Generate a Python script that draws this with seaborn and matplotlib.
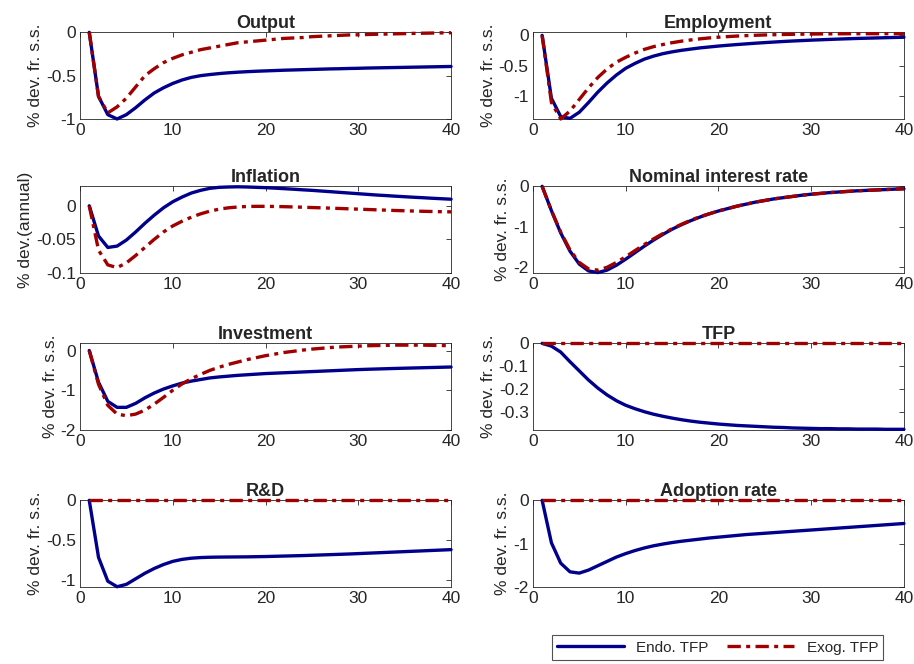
import numpy as np
import pandas as pd
import seaborn as sns
import matplotlib.pyplot as plt

# -----------------------
# Data
# -----------------------

periods = list(range(1, 41))

output_endo = [0, -0.74, -0.95, -1.0, -0.95, -0.87, -0.78, -0.7, -0.64, -0.59,
               -0.55, -0.52, -0.5, -0.487, -0.476, -0.467, -0.46, -0.454, -0.449, -0.445,
               -0.441, -0.437, -0.434, -0.431, -0.428, -0.425, -0.422, -0.42, -0.417, -0.415,
               -0.412, -0.41, -0.408, -0.406, -0.404, -0.402, -0.4, -0.398, -0.396, -0.394]
output_exog = [0, -0.74, -0.93, -0.86, -0.76, -0.63, -0.5, -0.42, -0.35, -0.3,
               -0.26, -0.23, -0.2, -0.18, -0.16, -0.14, -0.12, -0.11, -0.1, -0.09,
               -0.08, -0.07, -0.065, -0.06, -0.05, -0.045, -0.04, -0.035, -0.03, -0.028,
               -0.025, -0.022, -0.02, -0.017, -0.015, -0.012, -0.01, -0.008, -0.006, -0.005]

employment_endo = [0, -1.03, -1.33, -1.36, -1.26, -1.1, -0.93, -0.78, -0.65, -0.54,
                   -0.46, -0.39, -0.34, -0.3, -0.27, -0.245, -0.225, -0.205, -0.19, -0.175,
                   -0.162, -0.15, -0.139, -0.128, -0.118, -0.109, -0.1, -0.092, -0.085, -0.078,
                   -0.072, -0.066, -0.06, -0.055, -0.05, -0.046, -0.042, -0.038, -0.034, -0.03]
employment_exog = [0, -1.1, -1.37, -1.24, -1.05, -0.86, -0.69, -0.55, -0.44, -0.36,
                   -0.29, -0.23, -0.185, -0.15, -0.12, -0.095, -0.075, -0.057, -0.042, -0.03,
                   -0.02, -0.011, -0.004, 0.002, 0.007, 0.011, 0.015, 0.018, 0.02, 0.022,
                   0.024, 0.025, 0.026, 0.027, 0.028, 0.028, 0.028, 0.028, 0.028, 0.028]

inflation_endo = [0, -0.045, -0.062, -0.06, -0.051, -0.039, -0.026, -0.014, -0.003, 0.006,
                  0.013, 0.019, 0.023, 0.026, 0.0275, 0.028, 0.0283, 0.028, 0.0275, 0.027,
                  0.0263, 0.0255, 0.0247, 0.0238, 0.023, 0.022, 0.021, 0.02, 0.019, 0.018,
                  0.017, 0.016, 0.0152, 0.0143, 0.0135, 0.0127, 0.012, 0.0112, 0.0105, 0.0098]
inflation_exog = [0, -0.066, -0.088, -0.092, -0.085, -0.074, -0.062, -0.05, -0.039, -0.03,
                  -0.023, -0.017, -0.012, -0.008, -0.005, -0.003, -0.0018, -0.001, -0.0008, -0.0008,
                  -0.001, -0.0013, -0.0017, -0.0021, -0.0026, -0.003, -0.0035, -0.004, -0.0045, -0.005,
                  -0.0055, -0.006, -0.0065, -0.007, -0.0074, -0.0078, -0.0082, -0.0085, -0.0088, -0.009]

rate_endo = [0, -0.6, -1.15, -1.6, -1.92, -2.09, -2.13, -2.07, -1.95, -1.8,
             -1.64, -1.48, -1.33, -1.19, -1.06, -0.95, -0.85, -0.76, -0.68, -0.61,
             -0.55, -0.49, -0.44, -0.39, -0.35, -0.31, -0.28, -0.25, -0.22, -0.195,
             -0.175, -0.155, -0.14, -0.125, -0.11, -0.1, -0.09, -0.08, -0.07, -0.06]
rate_exog = [0, -0.6, -1.13, -1.57, -1.88, -2.04, -2.07, -2.0, -1.88, -1.74,
             -1.59, -1.44, -1.3, -1.17, -1.05, -0.94, -0.84, -0.75, -0.68, -0.61,
             -0.55, -0.49, -0.44, -0.39, -0.35, -0.31, -0.28, -0.25, -0.22, -0.195,
             -0.175, -0.155, -0.14, -0.125, -0.11, -0.1, -0.09, -0.08, -0.07, -0.06]

investment_endo = [0, -0.8, -1.28, -1.43, -1.43, -1.33, -1.19, -1.07, -0.97, -0.89,
                   -0.82, -0.77, -0.73, -0.69, -0.665, -0.645, -0.625, -0.61, -0.595, -0.58,
                   -0.57, -0.56, -0.55, -0.54, -0.53, -0.52, -0.51, -0.5, -0.49, -0.48,
                   -0.472, -0.465, -0.458, -0.451, -0.445, -0.439, -0.433, -0.427, -0.421, -0.415]
investment_exog = [0, -0.85, -1.38, -1.6, -1.64, -1.6, -1.5, -1.35, -1.18, -1.0,
                   -0.84, -0.71, -0.6, -0.5, -0.42, -0.35, -0.29, -0.23, -0.18, -0.13,
                   -0.09, -0.05, -0.02, 0.01, 0.035, 0.055, 0.075, 0.09, 0.1, 0.11,
                   0.12, 0.125, 0.13, 0.135, 0.135, 0.135, 0.135, 0.13, 0.125, 0.12]

tfp_endo = [0, -0.012, -0.038, -0.08, -0.12, -0.16, -0.195, -0.225, -0.25, -0.27,
            -0.285, -0.298, -0.309, -0.318, -0.326, -0.333, -0.339, -0.344, -0.348, -0.352,
            -0.355, -0.358, -0.36, -0.362, -0.364, -0.366, -0.367, -0.369, -0.37, -0.371,
            -0.372, -0.372, -0.373, -0.373, -0.374, -0.374, -0.374, -0.375, -0.375, -0.375]
tfp_exog = [0] * 40

rd_endo = [0, -0.72, -1.02, -1.09, -1.06, -0.99, -0.92, -0.86, -0.81, -0.77,
           -0.745, -0.73, -0.722, -0.718, -0.716, -0.715, -0.714, -0.713, -0.711, -0.709,
           -0.706, -0.703, -0.7, -0.697, -0.693, -0.689, -0.685, -0.681, -0.677, -0.672,
           -0.667, -0.662, -0.657, -0.652, -0.647, -0.642, -0.637, -0.632, -0.627, -0.622]
rd_exog = [0] * 40

adoption_endo = [0, -0.98, -1.45, -1.65, -1.68, -1.61, -1.51, -1.41, -1.31, -1.23,
                 -1.16, -1.1, -1.05, -1.01, -0.975, -0.945, -0.92, -0.895, -0.87, -0.85,
                 -0.83, -0.81, -0.79, -0.775, -0.76, -0.745, -0.73, -0.715, -0.7, -0.685,
                 -0.67, -0.655, -0.64, -0.625, -0.61, -0.595, -0.58, -0.565, -0.55, -0.535]
adoption_exog = [0] * 40

titles = ["Output", "Employment", "Inflation", "Nominal interest rate",
          "Investment", "TFP", "R&D", "Adoption rate"]
ylabels = ["% dev. fr. s.s.", "% dev. fr. s.s.", "% dev.(annual)", "% dev. fr. s.s.",
           "% dev. fr. s.s.", "% dev. fr. s.s.", "% dev. fr. s.s.", "% dev. fr. s.s."]
endo_series = [output_endo, employment_endo, inflation_endo, rate_endo,
               investment_endo, tfp_endo, rd_endo, adoption_endo]
exog_series = [output_exog, employment_exog, inflation_exog, rate_exog,
               investment_exog, tfp_exog, rd_exog, adoption_exog]
ylims = [(-1, 0), (-1.37, 0.05), (-0.1, 0.029), (-2.14, 0),
         (-2, 0.18), (-0.378, 0), (-1.093, 0), (-2, 0)]
yticks = [[-1, -0.5, 0], [-1, -0.5, 0], [-0.1, -0.05, 0], [-2, -1, 0],
          [-2, -1, 0], [-0.3, -0.2, -0.1, 0], [-1, -0.5, 0], [-2, -1, 0]]
series_names = ["Endo. TFP", "Exog. TFP"]

# -----------------------
# Style
# -----------------------

sns.set_style("white")
plt.rcParams["font.family"] = ["Liberation Sans", "DejaVu Sans"]
plt.rcParams["axes.edgecolor"] = "#262626"
plt.rcParams["xtick.color"] = "#262626"
plt.rcParams["ytick.color"] = "#262626"

blue = "#00008c"
red = "#a00000"
dashdot = (0, (4.0, 1.6, 1.2, 1.6))

fig = plt.figure(figsize=(9.14, 6.64), dpi=100)

lefts = [0.0875, 0.583]
width = 0.406
bottoms = [0.8208, 0.5889, 0.3524, 0.1160]
height = 0.1305

for i in range(8):
    row, col = divmod(i, 2)
    ax = fig.add_axes([lefts[col], bottoms[row], width, height])

    df = pd.DataFrame({"t": periods, "Endo": endo_series[i], "Exog": exog_series[i]})
    sns.lineplot(data=df, x="t", y="Endo", ax=ax, color=blue, linewidth=2.4,
                 label=series_names[0], legend=False, clip_on=False, zorder=3)
    sns.lineplot(data=df, x="t", y="Exog", ax=ax, color=red, linewidth=2.4,
                 linestyle=dashdot, label=series_names[1], legend=False,
                 clip_on=False, zorder=4)

    ax.set_xlim(0, 40)
    ax.set_xticks([0, 10, 20, 30, 40])
    ax.set_ylim(*ylims[i])
    ax.set_yticks(yticks[i])
    ax.set_yticklabels([f"{v:g}" for v in yticks[i]])
    ax.set_title(titles[i], fontsize=13, fontweight="bold", pad=3)
    ax.set_xlabel("")
    ax.set_ylabel(ylabels[i], fontsize=12.5, labelpad=2)
    ax.tick_params(direction="in", length=3.5, width=0.6, labelsize=12.5,
                   top=True, right=True, pad=3)
    for s in ax.spines.values():
        s.set_linewidth(0.6)

handles, labels = fig.axes[0].get_legend_handles_labels()
leg = fig.legend(handles, labels, ncol=2, loc="center",
                 bbox_to_anchor=(0.785, 0.0248), fontsize=11,
                 frameon=True, fancybox=False, edgecolor="#262626",
                 handlelength=4.4, columnspacing=1.2, borderpad=0.35)
leg.get_frame().set_linewidth(0.8)

fig.savefig("out.png", dpi=100)
